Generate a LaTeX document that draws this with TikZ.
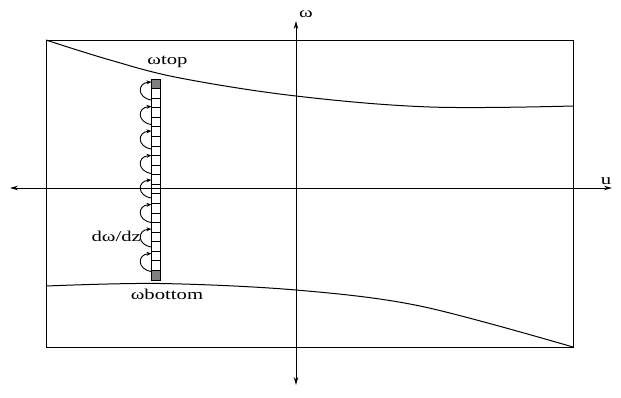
\documentclass[tikz,border=0pt]{standalone}
\usepackage{fontspec}
\setmainfont{Liberation Serif}
\usetikzlibrary{arrows.meta}
\definecolor{cellgray}{RGB}{128,128,128}
\newcommand{\widetext}[1]{\scalebox{1.38}[1]{#1}}
\tikzset{
  axisline/.style={line width=0.9pt, {Stealth[length=8pt, width=4.5pt]}-{Stealth[length=8pt, width=4.5pt]}},
  profile/.style={line width=1pt},
  flux/.style={line width=0.9pt, -{Stealth[length=5pt, width=4pt]}},
  lbl/.style={anchor=base, inner sep=0pt, font=\fontsize{15}{17}\selectfont}
}

\begin{document}
\begin{tikzpicture}[x=1pt, y=-1pt]
    \useasboundingbox (0,0) rectangle (621,397);

    %% --- Domain box ---
    \coordinate (NW) at (46, 40);
    \coordinate (SE) at (573, 347);
    \draw[line width=0.9pt] (NW) rectangle (SE);

    %% --- Axes u and omega ---
    \coordinate (Uleft)  at (10, 188);
    \coordinate (Uright) at (612, 188);
    \coordinate (Wtop)   at (296, 21);
    \coordinate (Wbot)   at (296, 385);
    \draw[axisline] (Uleft) -- (Uright);
    \draw[axisline] (Wbot) -- (Wtop);
    \node[lbl] (u)     at (606, 184) {\widetext{u}};
    \node[lbl] (omega) at (306, 17)  {\widetext{ω}};

    %% --- Upper and lower profiles ---
    \draw[profile] plot[smooth, tension=0.6] coordinates
        {(46,40) (110,60) (180,78) (296,96) (430,107) (573,106)};
    \draw[profile] plot[smooth, tension=0.55] coordinates
        {(46,286) (160,283.5) (296,290) (420,306) (573,347)};

    %% --- Column of cells (gray ends) ---
    \foreach \i in {0,...,20} {
        \pgfmathsetmacro{\yc}{79 + \i*9.571}
        \ifnum\i=0 \fill[cellgray] (151.5,\yc) rectangle ++(9,9.571); \fi
        \ifnum\i=20 \fill[cellgray] (151.5,\yc) rectangle ++(9,9.571); \fi
        \draw[line width=0.8pt] (151.5,\yc) rectangle ++(9,9.571);
    }

    %% --- Curved arrows along the column ---
    \foreach \k in {0,...,7} {
        \pgfmathsetmacro{\ya}{82 + \k*24.5}
        \draw[flux] (151.5,\ya+18) .. controls (137,\ya+16) and (137,\ya+1) .. (151.5,\ya);
    }

    %% --- Labels ---
    \node[lbl] (top)    at (167.5, 64)  {\widetext{ωtop}};
    \node[lbl] (bottom) at (167, 299.5) {\widetext{ωbottom}};
    \node[lbl, anchor=base east] (slope) at (141, 241) {\widetext{dω/dz}};

\end{tikzpicture}
\end{document}
